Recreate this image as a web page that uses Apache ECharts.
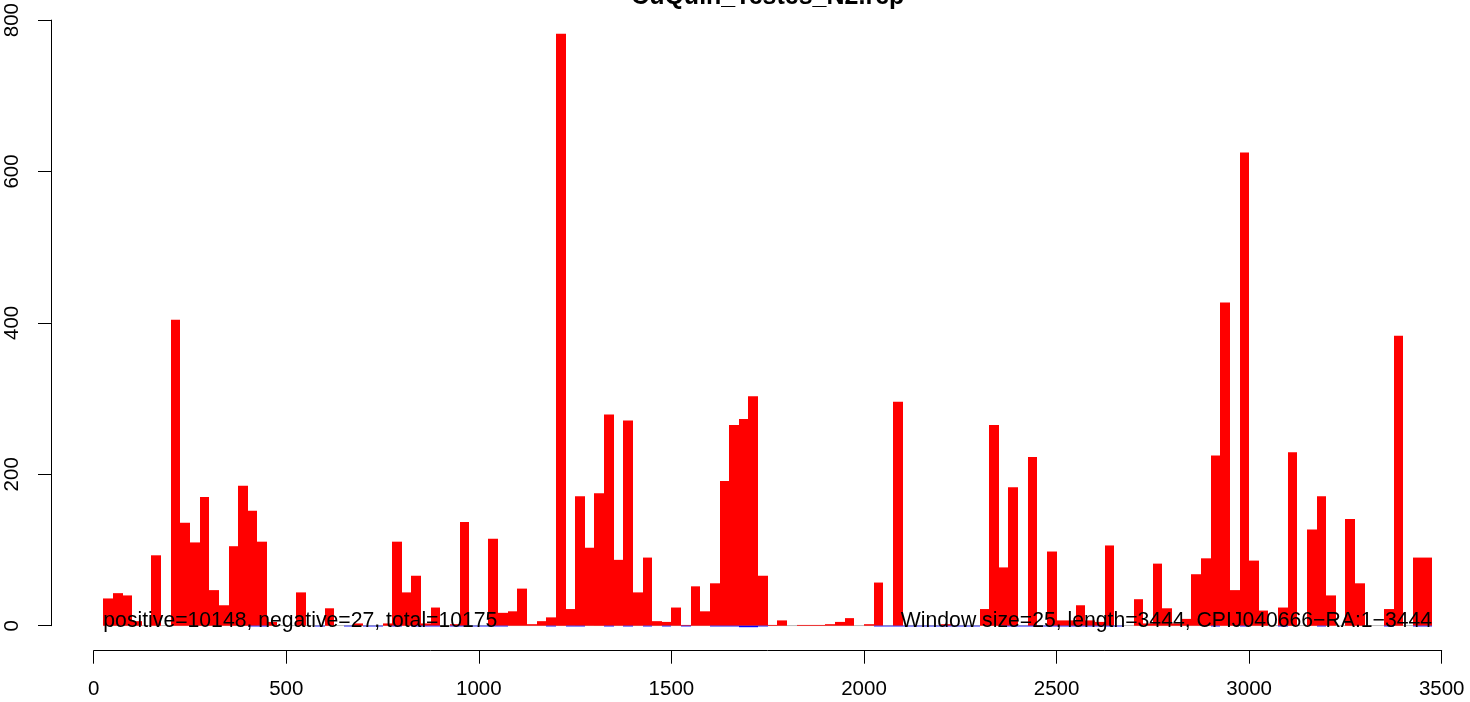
<!DOCTYPE html>
<html>
<head>
<meta charset="utf-8">
<script src="https://cdn.jsdelivr.net/npm/echarts@6/dist/echarts.min.js"></script>
<style>
html,body{margin:0;padding:0;background:#fff;}
#chart{width:1470px;height:702px;}
</style>
</head>
<body>
<div id="chart"></div>
<script>
// ---- data ----
const chartTitle = "CuQuin_Testes_N2.rep";
const windowSize = 25;
const seqLength = 3444;
const posVals = [
  36, 43, 40, 6, 0, 93, 0, 404, 136, 110,
  170, 47, 27, 105, 185, 152, 111, 5, 0, 0,
  44, 0, 0, 23, 0, 0, 3, 0, 0, 3,
  111, 44, 66, 3, 24, 0, 2, 137, 0, 0,
  115, 17, 19, 49, 2, 6, 11, 782, 22, 171,
  103, 175, 279, 87, 271, 44, 90, 6, 5, 24,
  1, 52, 19, 56, 191, 265, 273, 303, 66, 1,
  7, 0, 1, 1, 1, 2, 5, 10, 0, 2,
  57, 0, 296, 0, 0, 0, 0, 2, 0, 0,
  0, 22, 265, 77, 183, 0, 223, 0, 98, 7,
  7, 27, 7, 5, 106, 0, 0, 35, 3, 82,
  23, 3, 9, 68, 89, 225, 427, 47, 625, 86,
  20, 0, 24, 229, 0, 127, 171, 40, 0, 141,
  56, 0, 0, 22, 383, 0, 90, 90
];
const negVals = [
  0, 0, 0, 0, 0, 0, 0, 0, 0, 0,
  0, 0, 0, 0, 0, -1, -1, 0, 0, 0,
  0, 0, -1, 0, 0, -1, 0, -1, -1, 0,
  -1, 0, -1, -1, -1, 0, -1, -1, -1, -1,
  -1, -1, 0, 0, 0, 0, -1, 0, -1, -1,
  0, 0, -1, 0, -1, 0, -1, 0, -1, 0,
  -1, 0, 0, -1, -1, -1, -2, -2, -1, 0,
  0, 0, 0, 0, 0, 0, 0, 0, 0, 0,
  -1, -1, -1, -1, -1, -1, -1, -1, -1, -1,
  -1, 0, 0, -1, -1, -1, -1, -1, -1, -1,
  -1, -1, -1, -1, -1, -1, 0, 0, 0, 0,
  0, 0, 0, 0, 0, -1, 0, 0, -1, 0,
  0, 0, -1, 0, 0, 0, -1, 0, 0, 0,
  0, 0, 0, -1, 0, 0, -1, -1
];
const xTicks = [0, 500, 1000, 1500, 2000, 2500, 3000, 3500];
const yTicks = [0, 200, 400, 600, 800];
const leftNote = "positive=10148, negative=27, total=10175";
const rightNote = "Window size=25, length=3444, CPIJ040666\u2212RA:1\u22123444";

// ---- build ----
const barData = [];
posVals.forEach((v, i) => barData.push([windowSize * (i + 1), windowSize * (i + 2), v]));
const negData = [];
negVals.forEach((v, i) => { if (v !== 0) negData.push([windowSize * (i + 1), windowSize * (i + 2), v]); });
const firstX = windowSize;
const lastX = windowSize * (posVals.length + 1);

function rectItem(params, api) {
  const a = api.coord([api.value(0), 0]);
  const b = api.coord([api.value(1), api.value(2)]);
  const x = Math.round(a[0]);
  const w = Math.round(b[0]) - x;
  const y = Math.min(a[1], b[1]);
  const h = Math.abs(b[1] - a[1]);
  return { type: 'rect', shape: { x: x, y: y, width: w, height: h }, style: { fill: api.visual('color') } };
}

const FONT = '"Liberation Sans", Arial, Helvetica, sans-serif';
const chart = echarts.init(document.getElementById('chart'), null, { renderer: 'canvas' });
chart.setOption({
  backgroundColor: '#ffffff',
  animation: false,
  grid: { left: 93.7, right: 28.3, top: 16, bottom: 76.3, containLabel: false },
  xAxis: {
    type: 'value', min: xTicks[0], max: xTicks[xTicks.length - 1], interval: 500,
    offset: 25,
    axisLine: { show: true, onZero: false, lineStyle: { color: '#000', width: 1 } },
    axisTick: { show: true, length: 13, lineStyle: { color: '#000', width: 1 } },
    axisLabel: { show: true, margin: 28, color: '#000', fontSize: 20.5, fontFamily: FONT, showMinLabel: true, showMaxLabel: true,
      formatter: v => String(v) },
    splitLine: { show: false }
  },
  yAxis: {
    type: 'value', min: yTicks[0], max: yTicks[yTicks.length - 1], interval: 200,
    offset: 42.7,
    axisLine: { show: true, onZero: false, lineStyle: { color: '#000', width: 1 } },
    axisTick: { show: true, length: 13, lineStyle: { color: '#000', width: 1 } },
    axisLabel: { show: true, rotate: 90, margin: 28, color: '#000', fontSize: 20.5, fontFamily: FONT, showMinLabel: true, showMaxLabel: true,
      formatter: v => String(v) },
    splitLine: { show: false }
  },
  series: [
    {
      type: 'line', data: [[firstX, 0], [lastX, 0]], symbol: 'none', silent: true,
      lineStyle: { color: '#BEBEBE', width: 1.2 }, z: 1
    },
    {
      type: 'custom', renderItem: rectItem, data: barData, clip: false,
      itemStyle: { color: '#FF0000' }, encode: { x: [0, 1], y: 2 }, z: 2
    },
    {
      type: 'custom', renderItem: rectItem, data: negData, clip: false,
      itemStyle: { color: '#0000FF' }, encode: { x: [0, 1], y: 2 }, z: 2
    }
  ]
});

const pL = chart.convertToPixel({ gridIndex: 0 }, [firstX, 0]);
const pR = chart.convertToPixel({ gridIndex: 0 }, [lastX, 0]);
const pC = chart.convertToPixel({ gridIndex: 0 }, [(xTicks[0] + xTicks[xTicks.length - 1]) / 2, 0]);
const noteSize = 21.2;
chart.setOption({
  graphic: [
    {
      type: 'text', x: pL[0], y: pL[1] - 0.2 * noteSize, z: 10,
      style: { text: leftNote, fill: '#000', font: noteSize + 'px ' + FONT, textAlign: 'left', textVerticalAlign: 'middle' }
    },
    {
      type: 'text', x: pR[0], y: pR[1] - 0.2 * noteSize, z: 10,
      style: { text: rightNote, fill: '#000', font: noteSize + 'px ' + FONT, textAlign: 'right', textVerticalAlign: 'middle' }
    },
    {
      type: 'text', x: pC[0], y: 2 - 0.2 * 25, z: 10,
      style: { text: chartTitle, fill: '#000', font: 'bold 25px ' + FONT, textAlign: 'center', textVerticalAlign: 'middle' }
    }
  ]
});
</script>
</body>
</html>
